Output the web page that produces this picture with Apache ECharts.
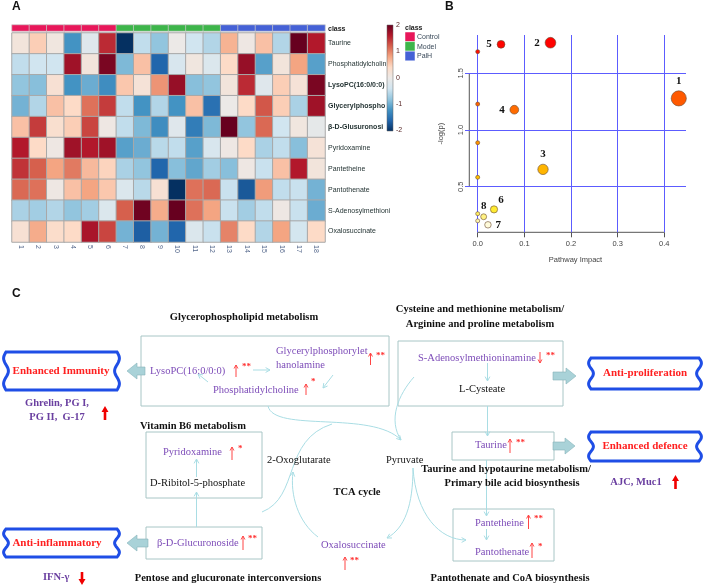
<!DOCTYPE html>
<html><head><meta charset="utf-8">
<script src="https://cdn.jsdelivr.net/npm/echarts@6/dist/echarts.min.js"></script>
<style>html,body{margin:0;padding:0;background:#fff}#c{width:708px;height:587px}</style>
</head><body><div id="c"></div>
<script>
// ---------------- DATA: panel A (heatmap, z-scores) ----------------
const sampleIds = ['1','2','3','4','5','6','7','8','9','10','11','12','13','14','15','16','17','18'];
const sampleClass = ['Control','Control','Control','Control','Control','Control','Model','Model','Model','Model','Model','Model','PalH','PalH','PalH','PalH','PalH','PalH'];
const classNames = ['Control','Model','PalH'];
const metaboliteRows = ['Taurine','Phosphatidylcholin','LysoPC(16:0/0:0)','Glycerylphospho','β-D-Glusuronosi','Pyridoxamine','Pantetheine','Pantothenate','S-Adenosylmethioni','Oxalosuccinate'];
const zTaurine      = [0.15,0.5,0.1,-1.2,-0.2,1.5,-2.0,-0.5,-0.8,0.0,-0.4,-0.6,0.7,0.05,0.6,-0.6,2.0,1.6];
const zPhosphatidyl = [-0.5,-0.4,-0.4,1.7,0.15,1.9,-0.9,0.6,-1.6,-0.3,0.1,-0.25,0.4,1.75,-1.1,0.15,0.8,-1.1];
const zLysoPC       = [-0.8,-0.85,0.25,-1.2,-1.0,-1.25,0.55,0.2,0.9,1.75,-0.85,-0.8,0.15,1.5,-0.2,0.5,0.2,1.9];
const zGlyceryl     = [-0.95,-0.6,0.6,0.4,1.1,1.4,-0.5,-1.2,-0.6,-1.2,0.6,-1.5,0.0,0.4,1.25,0.5,-0.65,1.7];
const zGlucuronosi  = [0.6,1.4,0.3,0.5,1.35,0.05,-0.5,-0.9,-1.25,-0.2,-1.4,-0.9,2.0,-0.8,1.15,-0.4,0.1,-0.1];
const zPyridoxamine = [1.6,0.4,0.05,1.7,1.6,1.7,-1.1,-1.0,-0.55,-0.5,-1.1,-0.3,0.05,0.4,-0.65,-0.5,-0.85,0.2];
const zPantetheine  = [1.45,1.2,0.8,1.05,0.65,0.45,-0.65,-0.8,-1.6,-0.85,-1.05,-0.7,-0.85,0.05,-0.45,0.6,1.6,0.15];
const zPantothenate = [1.15,1.1,0.05,0.6,0.8,0.55,-0.25,-0.55,0.25,-2.0,1.1,1.15,-0.45,-1.7,0.85,-0.5,-0.45,-0.95];
const zSAM          = [-0.65,-0.7,-0.6,-0.8,-0.7,-0.25,1.2,1.95,0.75,2.0,1.1,0.8,-0.45,-0.7,-0.5,0.05,-0.45,-1.0];
const zOxalo        = [0.25,0.75,0.35,0.4,1.65,1.35,-0.95,-1.65,-0.95,-1.6,-0.25,-0.45,1.0,0.4,-0.6,0.8,-0.35,0.4];
const zRows = [zTaurine,zPhosphatidyl,zLysoPC,zGlyceryl,zGlucuronosi,zPyridoxamine,zPantetheine,zPantothenate,zSAM,zOxalo];
const legendTicks = [2,1,0,-1,-2];

// ---------------- DATA: panel B (pathway bubbles) ----------------
const pathwayImpact = [0.431,0.156,0.140,0.0785,0.050,0.035,0.022,0.0128,0,0,0,0,0,0];
const pathwayLogP   = [1.279,1.770,0.653,1.179,1.756,0.300,0.164,0.235,1.691,1.229,0.888,0.583,0.262,0.199];
const pathwayLabel  = ['1','2','3','4','5','6','7','8','','','','','',''];
const impactTicks = [0,0.1,0.2,0.3,0.4];
const logPTicks = [0.5,1.0,1.5];

// ---------------- styles ----------------
const SERIF = '"Liberation Serif","Times New Roman",serif';
const SANS = '"Liberation Sans",Arial,sans-serif';
const rdbu = ['#053061','#2166ac','#4393c3','#92c5de','#d1e5f0','#ece9e7','#fddbc7','#f4a582','#d6604d','#b2182b','#67001f'];
const classColors = {Control:'#e8175a', Model:'#3db54a', PalH:'#4561d6'};
const boldRows = new Set(['LysoPC(16:0/0:0)','Glycerylphospho','β-D-Glusuronosi']);
const PURPLE = '#7d4cb8', RED = '#ff2020', LINK = '#a9dde4', BOXC = '#a8c6c6';

const heatData = [];
zRows.forEach((row, r) => row.forEach((v, c) => heatData.push([c, r, v])));
const classData = sampleClass.map((k, i) => [i, 0, classNames.indexOf(k)]);

const labelPlace = {'1':['top',4,[0,0]],'2':['left',5,[0,0]],'3':['top',4,[0,0]],'4':['left',5,[0,0]],
  '5':['left',5,[0,0]],'6':['top',2,[7,2]],'7':['right',4,[0,0]],'8':['top',2,[0,0]]};
const bubbleData = pathwayImpact.map((x, i) => {
  const lab = pathwayLabel[i];
  const item = {value:[x, pathwayLogP[i], lab]};
  if (lab) { const p = labelPlace[lab];
    item.label = {show:true, position:p[0], distance:p[1], offset:p[2], formatter:lab,
      fontFamily:SERIF, fontWeight:'bold', fontSize:11, color:'#111'}; }
  return item;
});
const yAxisLineX = -0.018, xAxisLineY = 0.098;

// ---------------- graphic helpers ----------------
const G = [];
function txt(x, y, text, font, fill, align){ G.push({type:'text', x, y, z:20, silent:true,
  style:{text, font, fill, textAlign:align||'left', textVerticalAlign:'middle'}}); }
function box(x, y, w, h){ G.push({type:'rect', silent:true, shape:{x, y, width:w, height:h},
  style:{fill:'none', stroke:BOXC, lineWidth:1}}); }
function head(x, y, fx, fy, col, len){
  len = len||5; const dx = x-fx, dy = y-fy, L = Math.hypot(dx,dy), ux = dx/L, uy = dy/L;
  const a = 0.5, c = Math.cos(a), s = Math.sin(a);
  const p1 = [x - len*(ux*c - uy*s), y - len*(uy*c + ux*s)];
  const p2 = [x - len*(ux*c + uy*s), y - len*(uy*c - ux*s)];
  G.push({type:'polyline', silent:true, shape:{points:[p1,[x,y],p2]}, style:{stroke:col, fill:'none', lineWidth:1}});
}
function link(x1,y1,x2,y2){ G.push({type:'line', silent:true, shape:{x1,y1,x2,y2}, style:{stroke:LINK, lineWidth:1}}); head(x2,y2,x1,y1,LINK); }
function curve(x1,y1,c1x,c1y,c2x,c2y,x2,y2,arrow){
  G.push({type:'bezierCurve', silent:true, shape:{x1,y1,cpx1:c1x,cpy1:c1y,cpx2:c2x,cpy2:c2y,x2,y2}, style:{stroke:LINK, fill:'none', lineWidth:1}});
  if (arrow) head(x2,y2,c2x,c2y,LINK);
}
function thinRed(x, yTop, yBot, up){
  G.push({type:'line', silent:true, shape:{x1:x,y1:yTop,x2:x,y2:yBot}, style:{stroke:'#ff4545', lineWidth:1}});
  if (up) head(x, yTop, x, yBot, '#ff4545', 4); else head(x, yBot, x, yTop, '#ff4545', 4);
}
function stars(x, y, s){ txt(x, y, s, 'bold 9px '+SERIF, '#ff3030'); }
function thickRed(x, yTop, yBot, up){
  const tip = up ? yTop : yBot, base = up ? yBot : yTop, d = up ? 1 : -1, hl = 6;
  G.push({type:'polygon', silent:true, shape:{points:[[x,tip],[x+3.5,tip+d*hl],[x+1.3,tip+d*hl],[x+1.3,base],[x-1.3,base],[x-1.3,tip+d*hl],[x-3.5,tip+d*hl]]},
    style:{fill:'#f00000', stroke:'none'}});
}
function blockArrow(tail, tip, yc){
  const dir = tip > tail ? 1 : -1, neck = tip - dir*10;
  G.push({type:'polygon', silent:true, shape:{points:[[tail,yc-4],[neck,yc-4],[neck,yc-8],[tip,yc],[neck,yc+8],[neck,yc+4],[tail,yc+4]]},
    style:{fill:'#a9d2d8', stroke:'#86b3ba', lineWidth:0.6}});
}
function scroll(x, y, w, h, label, cx){
  const pts = [], a = 2.4, n = 30;
  pts.push([x+3, y], [x+w-3, y]);
  for (let i = 0; i <= n; i++){ const t = i/n; pts.push([x+w-3 + a*Math.sin(t*Math.PI*3), y+t*h]); }
  pts.push([x+3, y+h]);
  for (let i = n; i >= 0; i--){ const t = i/n; pts.push([x+3 - a*Math.sin(t*Math.PI*3), y+t*h]); }
  G.push({type:'polygon', silent:true, shape:{points:pts}, style:{fill:'#fff', stroke:'#1f4ee6', lineWidth:3}});
  txt(cx, y+h/2, label, 'bold 11px '+SERIF, RED, 'center');
}

// panel letters
txt(12, 7, 'A', 'bold 12px '+SANS, '#111');
txt(445, 7, 'B', 'bold 12px '+SANS, '#111');
txt(12, 294, 'C', 'bold 12px '+SANS, '#111');

// heatmap legends
txt(328, 29, 'class', 'bold 7px '+SANS, '#222');
G.push({type:'rect', silent:true, shape:{x:387, y:25, width:6, height:106},
  style:{stroke:'#666', lineWidth:0.5, fill:{type:'linear', x:0, y:0, x2:0, y2:1,
    colorStops: rdbu.slice().reverse().map((c,i)=>({offset:i/(rdbu.length-1), color:c}))}}});
legendTicks.forEach((v,i)=> txt(396, 25 + i*26.3, String(v), '7px '+SANS, '#5a2a2a'));
txt(405, 28, 'class', 'bold 7px '+SANS, '#222');
classNames.forEach((k,i)=>{
  G.push({type:'rect', silent:true, shape:{x:405, y:32+i*9.6, width:10, height:9.6}, style:{fill:classColors[k], stroke:'#fff', lineWidth:0.5}});
  txt(417, 37+i*9.6, k, '7px '+SANS, '#3a4a5a');
});

// ---------------- panel C diagram ----------------
const TB = 'bold 10.5px '+SERIF, TN = '10.5px '+SERIF;
txt(244, 317, 'Glycerophospholipid metabolism', TB, '#111', 'center');
txt(480, 309, 'Cysteine and methionine metabolism/', TB, '#111', 'center');
txt(480, 324, 'Arginine and proline metabolism', TB, '#111', 'center');
txt(193, 426, 'Vitamin B6 metabolism', TB, '#111', 'center');
txt(357, 492, 'TCA cycle', TB, '#111', 'center');
txt(506, 469, 'Taurine and hypotaurine metabolism/', TB, '#111', 'center');
txt(512, 483, 'Primary bile acid biosynthesis', TB, '#111', 'center');
txt(228, 578, 'Pentose and glucuronate interconversions', TB, '#111', 'center');
txt(510, 578, 'Pantothenate and CoA biosynthesis', TB, '#111', 'center');

box(141, 336, 248, 70);
box(398, 341, 165, 65);
box(146, 432, 116, 66);
box(146, 527, 116, 32);
box(452, 432, 102, 28);
box(453, 509, 101, 52);

// metabolites
txt(150, 371, 'LysoPC(16:0/0:0)', TN, PURPLE); thinRed(236, 365, 377, true); stars(242, 367, '**');
txt(276, 351, 'Glycerylphosphorylet', TN, PURPLE); txt(276, 365, 'hanolamine', TN, PURPLE);
thinRed(370.5, 353, 365, true); stars(376, 356, '**');
txt(213, 390, 'Phosphatidylcholine', TN, PURPLE); thinRed(306, 384, 395, true); stars(311, 382, '*');
txt(418, 358, 'S-Adenosylmethioninamine', TN, PURPLE); thinRed(540, 352, 363, false); stars(546, 356, '**');
txt(459, 389, 'L-Cysteate', TN, '#111');
txt(163, 452, 'Pyridoxamine', TN, PURPLE); thinRed(232, 447, 460, true); stars(238, 449, '*');
txt(150, 483, 'D-Ribitol-5-phosphate', TN, '#111');
txt(157, 543, 'β-D-Glucuronoside', TN, PURPLE); thinRed(243, 536, 550, true); stars(248, 538.5, '**');
txt(267, 460, '2-Oxoglutarate', TN, '#111');
txt(386, 460, 'Pyruvate', TN, '#111');
txt(321, 545, 'Oxalosuccinate', TN, PURPLE); thinRed(345, 557, 570, true); stars(350, 561, '**');
txt(475, 445, 'Taurine', TN, PURPLE); thinRed(510, 439, 453, true); stars(516, 443, '**');
txt(475, 523, 'Pantetheine', TN, PURPLE); thinRed(528.5, 515, 529, true); stars(534, 519, '**');
txt(475, 552, 'Pantothenate', TN, PURPLE); thinRed(532, 543, 558, true); stars(538, 547, '*');

// connectors
link(253, 370, 270, 370);
link(333, 375, 323, 388);
link(208, 382, 198, 374);
link(487.5, 363, 487.5, 381);
link(487.5, 406, 487.5, 436);
link(486.5, 460, 486.5, 516);
link(486.5, 529, 486.5, 540);
link(196.5, 477, 196.5, 459);
link(196.5, 527, 196.5, 492);
curve(268, 406, 274, 433, 372, 410, 401, 440, true);
curve(414, 377, 398, 395, 388, 420, 401, 440, false);
curve(262, 512, 300, 497, 282, 440, 332, 424, false);
curve(318, 537, 298, 522, 290, 495, 293, 472, true);
curve(413, 468, 413, 505, 405, 528, 387, 538, true);
curve(413, 468, 416, 515, 440, 540, 466, 540, true);

// outcome boxes & arrows
blockArrow(145, 127, 371);
blockArrow(553, 576, 376);
blockArrow(553, 575, 446);
blockArrow(148, 127, 543);
scroll(3, 352, 117, 38, 'Enhanced Immunity', 61);
scroll(588, 358, 114, 31, 'Anti-proliferation', 645);
scroll(588, 432, 114, 29, 'Enhanced defence', 645);
scroll(3, 529, 117, 28, 'Anti-inflammatory', 57);
const SB = 'bold 10.5px '+SERIF, SUB = '#6a3fa0';
txt(57, 403, 'Ghrelin, PG I,', SB, SUB, 'center');
txt(57, 417, 'PG II,  G-17', SB, SUB, 'center');
thickRed(105, 406, 420, true);
txt(43, 577, 'IFN-γ', SB, SUB);
thickRed(82, 572, 585, false);
txt(636, 482, 'AJC, Muc1', SB, SUB, 'center');
thickRed(675.5, 475, 489, true);

// ---------------- chart ----------------
const chart = echarts.init(document.getElementById('c'), null, {renderer:'canvas'});
chart.setOption({
  animation:false,
  textStyle:{fontFamily:SANS},
  grid:[
    {left:12, top:33, width:313, height:209},
    {left:12, top:25, width:313, height:6},
    {left:465, top:35, width:221, height:197.3}
  ],
  xAxis:[
    {gridIndex:0, type:'category', data:sampleIds, axisLine:{show:false}, axisTick:{show:false}, splitLine:{show:false},
     axisLabel:{rotate:-90, fontSize:7, color:'#55688c', margin:3}},
    {gridIndex:1, type:'category', data:sampleIds, show:false},
    {gridIndex:2, type:'value', min:-0.0272, max:0.4465, splitLine:{show:false}, axisLine:{show:false},
     axisTick:{show:true, customValues:impactTicks, length:5, lineStyle:{color:'#555'}},
     axisLabel:{customValues:impactTicks, formatter:v=>v.toFixed(1), fontSize:7.5, color:'#444', margin:8},
     name:'Pathway Impact', nameLocation:'middle', nameGap:24, nameTextStyle:{fontSize:7.5, color:'#444'}}
  ],
  yAxis:[
    {gridIndex:0, type:'category', data:metaboliteRows, inverse:true, position:'right', axisLine:{show:false}, axisTick:{show:false},
     splitLine:{show:false},
     axisLabel:{fontSize:7, color:'#1f2f2f', margin:3, formatter:v=> boldRows.has(v) ? '{b|'+v+'}' : v,
       rich:{b:{fontWeight:'bold', fontSize:7, color:'#1f2f2f'}}}},
    {gridIndex:1, type:'category', data:['class'], show:false},
    {gridIndex:2, type:'value', min:0.098, max:1.838, offset:-4, splitLine:{show:false}, axisLine:{show:false},
     axisTick:{show:true, customValues:logPTicks, length:5, lineStyle:{color:'#555'}},
     axisLabel:{customValues:logPTicks, formatter:v=>v.toFixed(1), fontSize:7.5, color:'#444', rotate:90, margin:4},
     name:'-log(p)', nameLocation:'middle', nameGap:24, nameRotate:90, nameTextStyle:{fontSize:7.5, color:'#444'}}
  ],
  visualMap:[
    {type:'continuous', seriesIndex:0, dimension:2, min:-2, max:2, show:false, inRange:{color:rdbu}},
    {type:'piecewise', seriesIndex:1, dimension:2, show:false,
     pieces:classNames.map((k,i)=>({value:i, color:classColors[k]}))},
    {type:'continuous', seriesIndex:3, dimension:1, min:0.16, max:1.78, show:false,
     inRange:{color:['#fffbe0','#ffe600','#ffc800','#ffae00','#ff9500','#ff8000','#ff6000','#ff4000','#ff2000','#ff0000']}}
  ],
  series:[
    {type:'heatmap', xAxisIndex:0, yAxisIndex:0, data:heatData, itemStyle:{borderColor:'#a8a8a8', borderWidth:1},
     emphasis:{disabled:true}, silent:true},
    {type:'heatmap', xAxisIndex:1, yAxisIndex:1, data:classData, itemStyle:{borderColor:'rgba(200,200,200,0.9)', borderWidth:0.8},
     emphasis:{disabled:true}, silent:true},
    {type:'line', xAxisIndex:2, yAxisIndex:2, data:[[impactTicks[0], xAxisLineY],[impactTicks[impactTicks.length-1], xAxisLineY]],
     symbol:'none', clip:false, silent:true, lineStyle:{color:'#555', width:1},
     markLine:{silent:true, symbol:'none', label:{show:false}, lineStyle:{color:'#5c5cff', width:1, type:'solid'},
       data:[...impactTicks.map(v=>({xAxis:v})), ...logPTicks.map(v=>({yAxis:v}))]}},
    {type:'scatter', xAxisIndex:2, yAxisIndex:2, data:bubbleData, symbolSize:(d)=>4+17*Math.sqrt(d[0]),
     itemStyle:{borderColor:'#6a4a30', borderWidth:0.6, opacity:1}, emphasis:{disabled:true}, silent:true, z:5},
    {type:'line', xAxisIndex:2, yAxisIndex:2, data:[[yAxisLineX, logPTicks[0]],[yAxisLineX, logPTicks[logPTicks.length-1]]],
     symbol:'none', clip:false, silent:true, lineStyle:{color:'#555', width:1}}
  ],
  graphic:{elements:G}
});
</script></body></html>
